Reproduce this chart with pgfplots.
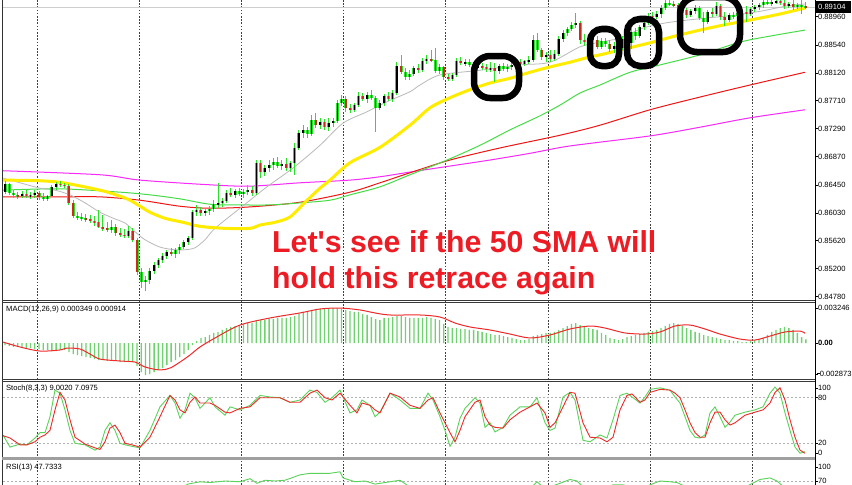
\documentclass[border=0pt]{standalone}
\usepackage{pgfplots}
\pgfplotsset{compat=1.18}
\usepackage{pgfplotstable}
\usepackage{fontspec}
\setmainfont{Liberation Sans}
\newfontfamily\annotfont{Liberation Sans}[Ligatures=TeXOff]

\definecolor{wick}{RGB}{40,225,40}
\definecolor{bearbody}{RGB}{200,45,25}
\definecolor{smagrey}{RGB}{185,185,185}
\definecolor{smayellow}{RGB}{255,236,0}
\definecolor{smagreen}{RGB}{70,220,70}
\definecolor{smared}{RGB}{240,20,20}
\definecolor{smamag}{RGB}{250,40,250}
\definecolor{histg}{RGB}{110,210,110}
\definecolor{stk}{RGB}{90,210,90}
\definecolor{std}{RGB}{240,40,40}
\definecolor{annot}{RGB}{237,28,36}
\newcommand\lab{\fontsize{7.6}{9}\selectfont}

% hourly candles, i = bar number
\pgfplotstableread{
i o h l c
0 0.8634 0.8651 0.8631 0.8646
1 0.8646 0.8648 0.8630 0.8633
2 0.8633 0.8637 0.8625 0.8630
3 0.8630 0.8634 0.8624 0.8628
4 0.8628 0.8636 0.8625 0.8631
5 0.8631 0.8637 0.8625 0.8628
6 0.8628 0.8634 0.8624 0.8630
7 0.8630 0.8637 0.8625 0.8633
8 0.8633 0.8636 0.8622 0.8627
9 0.8627 0.8633 0.8621 0.8624
10 0.8624 0.8630 0.8621 0.8628
11 0.8628 0.8645 0.8627 0.8642
12 0.8642 0.8649 0.8637 0.8646
13 0.8646 0.8651 0.8642 0.8645
14 0.8645 0.8648 0.8640 0.8643
15 0.8643 0.8646 0.8615 0.8618
16 0.8618 0.8622 0.8595 0.8598
17 0.8598 0.8604 0.8592 0.8597
18 0.8597 0.8603 0.8591 0.8595
19 0.8595 0.8601 0.8589 0.8594
20 0.8594 0.8600 0.8588 0.8591
21 0.8591 0.8598 0.8583 0.8589
22 0.8589 0.8607 0.8580 0.8582
23 0.8582 0.8600 0.8576 0.8580
24 0.8580 0.8589 0.8575 0.8577
25 0.8577 0.8592 0.8573 0.8582
26 0.8582 0.8586 0.8569 0.8573
27 0.8573 0.8580 0.8567 0.8570
28 0.8570 0.8579 0.8566 0.8569
29 0.8569 0.8583 0.8566 0.8576
30 0.8576 0.8580 0.8560 0.8563
31 0.8563 0.8566 0.8510 0.8515
32 0.8515 0.8521 0.8491 0.8500
33 0.8500 0.8509 0.8486 0.8503
34 0.8503 0.8521 0.8497 0.8516
35 0.8516 0.8530 0.8512 0.8525
36 0.8525 0.8536 0.8521 0.8533
37 0.8533 0.8543 0.8528 0.8539
38 0.8539 0.8548 0.8534 0.8545
39 0.8545 0.8551 0.8539 0.8542
40 0.8542 0.8551 0.8536 0.8548
41 0.8548 0.8557 0.8542 0.8552
42 0.8552 0.8563 0.8549 0.8560
43 0.8560 0.8569 0.8555 0.8566
44 0.8566 0.8607 0.8563 0.8604
45 0.8604 0.8615 0.8598 0.8607
46 0.8607 0.8612 0.8598 0.8603
47 0.8603 0.8610 0.8598 0.8606
48 0.8606 0.8613 0.8600 0.8609
49 0.8609 0.8622 0.8604 0.8616
50 0.8616 0.8648 0.8610 0.8618
51 0.8618 0.8625 0.8612 0.8621
52 0.8621 0.8637 0.8618 0.8633
53 0.8633 0.8640 0.8627 0.8630
54 0.8630 0.8639 0.8625 0.8636
55 0.8636 0.8640 0.8628 0.8631
56 0.8631 0.8639 0.8625 0.8634
57 0.8634 0.8645 0.8630 0.8637
58 0.8637 0.8643 0.8628 0.8633
59 0.8633 0.8682 0.8630 0.8678
60 0.8678 0.8682 0.8655 0.8664
61 0.8664 0.8675 0.8658 0.8670
62 0.8670 0.8682 0.8664 0.8675
63 0.8675 0.8685 0.8667 0.8679
64 0.8679 0.8687 0.8670 0.8673
65 0.8673 0.8682 0.8667 0.8676
66 0.8676 0.8685 0.8666 0.8670
67 0.8670 0.8681 0.8664 0.8678
68 0.8678 0.8707 0.8660 0.8700
69 0.8700 0.8727 0.8697 0.8722
70 0.8722 0.8734 0.8715 0.8727
71 0.8727 0.8731 0.8715 0.8721
72 0.8721 0.8749 0.8718 0.8742
73 0.8742 0.8752 0.8730 0.8734
74 0.8734 0.8745 0.8728 0.8739
75 0.8739 0.8743 0.8727 0.8731
76 0.8731 0.8745 0.8725 0.8737
77 0.8737 0.8745 0.8731 0.8740
78 0.8740 0.8772 0.8737 0.8767
79 0.8767 0.8779 0.8763 0.8773
80 0.8773 0.8778 0.8754 0.8760
81 0.8760 0.8766 0.8752 0.8757
82 0.8757 0.8767 0.8754 0.8764
83 0.8764 0.8784 0.8761 0.8778
84 0.8778 0.8782 0.8770 0.8773
85 0.8773 0.8784 0.8767 0.8779
86 0.8779 0.8787 0.8772 0.8775
87 0.8775 0.8778 0.8724 0.8760
88 0.8760 0.8772 0.8757 0.8767
89 0.8767 0.8781 0.8763 0.8778
90 0.8778 0.8784 0.8770 0.8773
91 0.8773 0.8787 0.8769 0.8782
92 0.8782 0.8828 0.8779 0.8822
93 0.8822 0.8839 0.8810 0.8813
94 0.8813 0.8819 0.8801 0.8806
95 0.8806 0.8816 0.8801 0.8810
96 0.8810 0.8822 0.8807 0.8819
97 0.8819 0.8825 0.8812 0.8816
98 0.8816 0.8834 0.8813 0.8830
99 0.8830 0.8839 0.8825 0.8833
100 0.8833 0.8846 0.8828 0.8831
101 0.8831 0.8849 0.8812 0.8815
102 0.8815 0.8825 0.8810 0.8821
103 0.8821 0.8822 0.8801 0.8806
104 0.8806 0.8810 0.8800 0.8803
105 0.8803 0.8812 0.8800 0.8809
106 0.8809 0.8834 0.8806 0.8830
107 0.8830 0.8836 0.8824 0.8827
108 0.8827 0.8833 0.8822 0.8828
109 0.8828 0.8833 0.8821 0.8824
110 0.8824 0.8828 0.8816 0.8819
111 0.8819 0.8828 0.8815 0.8822
112 0.8822 0.8827 0.8816 0.8821
113 0.8821 0.8825 0.8813 0.8818
114 0.8818 0.8828 0.8813 0.8819
115 0.8819 0.8827 0.8798 0.8815
116 0.8815 0.8825 0.8810 0.8822
117 0.8822 0.8827 0.8815 0.8818
118 0.8818 0.8825 0.8813 0.8821
119 0.8821 0.8828 0.8816 0.8824
120 0.8824 0.8831 0.8819 0.8828
121 0.8828 0.8833 0.8822 0.8825
122 0.8825 0.8831 0.8822 0.8830
123 0.8830 0.8837 0.8825 0.8831
124 0.8831 0.8869 0.8828 0.8861
125 0.8861 0.8872 0.8843 0.8846
126 0.8846 0.8849 0.8831 0.8836
127 0.8836 0.8843 0.8828 0.8839
128 0.8839 0.8846 0.8828 0.8833
129 0.8833 0.8846 0.8830 0.8840
130 0.8840 0.8867 0.8837 0.8863
131 0.8863 0.8876 0.8858 0.8872
132 0.8872 0.8881 0.8867 0.8878
133 0.8878 0.8888 0.8875 0.8884
134 0.8884 0.8901 0.8879 0.8887
135 0.8887 0.8890 0.8855 0.8861
136 0.8861 0.8870 0.8852 0.8858
137 0.8858 0.8869 0.8854 0.8864
138 0.8864 0.8872 0.8857 0.8861
139 0.8861 0.8867 0.8848 0.8851
140 0.8851 0.8864 0.8848 0.8860
141 0.8860 0.8864 0.8851 0.8855
142 0.8855 0.8861 0.8843 0.8848
143 0.8848 0.8858 0.8842 0.8852
144 0.8852 0.8861 0.8845 0.8849
145 0.8849 0.8867 0.8846 0.8863
146 0.8863 0.8869 0.8852 0.8857
147 0.8857 0.8879 0.8848 0.8873
148 0.8873 0.8879 0.8861 0.8867
149 0.8867 0.8884 0.8864 0.8881
150 0.8881 0.8891 0.8876 0.8887
151 0.8887 0.8901 0.8884 0.8897
152 0.8897 0.8903 0.8891 0.8896
153 0.8896 0.8904 0.8893 0.8900
154 0.8900 0.8913 0.8894 0.8909
155 0.8909 0.8921 0.8906 0.8916
156 0.8916 0.8921 0.8912 0.8915
157 0.8915 0.8919 0.8910 0.8913
158 0.8913 0.8916 0.8898 0.8901
159 0.8901 0.8910 0.8897 0.8906
160 0.8906 0.8909 0.8894 0.8898
161 0.8898 0.8907 0.8896 0.8904
162 0.8904 0.8913 0.8900 0.8909
163 0.8909 0.8912 0.8891 0.8894
164 0.8894 0.8903 0.8872 0.8888
165 0.8888 0.8906 0.8885 0.8903
166 0.8903 0.8909 0.8896 0.8900
167 0.8900 0.8918 0.8897 0.8912
168 0.8912 0.8915 0.8891 0.8896
169 0.8896 0.8903 0.8882 0.8891
170 0.8891 0.8901 0.8888 0.8898
171 0.8898 0.8903 0.8893 0.8897
172 0.8897 0.8904 0.8894 0.8901
173 0.8901 0.8909 0.8897 0.8903
174 0.8903 0.8912 0.8888 0.8900
175 0.8900 0.8910 0.8897 0.8907
176 0.8907 0.8913 0.8903 0.8910
177 0.8910 0.8916 0.8906 0.8913
178 0.8913 0.8921 0.8909 0.8918
179 0.8918 0.8921 0.8913 0.8916
180 0.8916 0.8921 0.8912 0.8918
181 0.8918 0.8921 0.8915 0.8919
182 0.8919 0.8921 0.8913 0.8916
183 0.8916 0.8921 0.8907 0.8912
184 0.8912 0.8918 0.8909 0.8915
185 0.8915 0.8921 0.8906 0.8910
186 0.8910 0.8916 0.8907 0.8913
187 0.8913 0.8921 0.8900 0.8912
188 0.8912 0.8918 0.8907 0.8910
}\candles

% moving averages (x in chart pixels)
\pgfplotstableread{
x p
3 0.8655
20 0.8648
40 0.8640
55 0.8637
70 0.8630
85 0.8618
100 0.8604
115 0.8594
125 0.8588
135 0.8575
145 0.8563
160 0.8552
175 0.8548
185 0.8548
195 0.8551
205 0.8563
215 0.8580
240 0.8610
267 0.8642
293 0.8670
320 0.8704
343 0.8737
367 0.8754
387 0.8769
410 0.8784
420 0.8794
440 0.8809
480 0.8816
520 0.8824
550 0.8828
580 0.8851
600 0.8858
620 0.8864
643 0.8879
667 0.8887
700 0.8893
733 0.8898
760 0.8904
787 0.8912
805 0.8915
}\smagrey
\pgfplotstableread{
x p
3 0.8652
40 0.8651
63 0.8648
100 0.8637
120 0.8628
130 0.8622
140 0.8613
150 0.8604
165 0.8595
183 0.8589
200 0.8583
225 0.8580
250 0.8580
260 0.8585
275 0.8589
290 0.8597
305 0.8619
320 0.8640
330 0.8652
350 0.8678
380 0.8701
410 0.8734
430 0.8760
450 0.8775
470 0.8787
490 0.8797
510 0.8804
530 0.8813
550 0.8821
570 0.8828
590 0.8836
600 0.8839
625 0.8848
650 0.8857
675 0.8867
700 0.8876
725 0.8884
750 0.8891
780 0.8900
805 0.8909
}\smayellow
\pgfplotstableread{
x p
3 0.8637
60 0.8639
120 0.8634
150 0.8630
180 0.8624
210 0.8616
240 0.8615
270 0.8615
300 0.8618
330 0.8622
350 0.8630
380 0.8642
410 0.8660
447 0.8682
480 0.8704
510 0.8727
540 0.8748
560 0.8764
580 0.8782
600 0.8794
630 0.8813
660 0.8824
700 0.8839
740 0.8858
770 0.8867
805 0.8876
}\smagreen
\pgfplotstableread{
x p
3 0.8627
60 0.8627
100 0.8627
140 0.8622
180 0.8613
210 0.8610
250 0.8612
300 0.8619
350 0.8634
380 0.8648
410 0.8663
450 0.8682
500 0.8700
560 0.8719
600 0.8734
650 0.8757
700 0.8776
750 0.8794
805 0.8813
}\smared
\pgfplotstableread{
x p
3 0.8666
100 0.8660
140 0.8652
210 0.8645
250 0.8643
300 0.8648
350 0.8652
380 0.8657
410 0.8664
450 0.8673
490 0.8682
530 0.8692
570 0.8703
650 0.8718
700 0.8731
750 0.8745
805 0.8757
}\smamag

% MACD main (histogram, per bar) and signal
\pgfplotstableread{
i m
0 -0.00019
1 -0.00028
2 -0.00037
3 -0.00037
4 -0.00047
5 -0.00047
6 -0.00047
7 -0.00056
8 -0.00056
9 -0.00065
10 -0.00065
11 -0.00075
12 -0.00075
13 -0.00065
14 -0.00065
15 -0.00084
16 -0.00103
17 -0.00112
18 -0.00122
19 -0.00131
20 -0.00140
21 -0.00150
22 -0.00159
23 -0.00159
24 -0.00168
25 -0.00168
26 -0.00168
27 -0.00178
28 -0.00178
29 -0.00178
30 -0.00178
31 -0.00215
32 -0.00271
33 -0.00299
34 -0.00290
35 -0.00271
36 -0.00252
37 -0.00234
38 -0.00206
39 -0.00178
40 -0.00159
41 -0.00131
42 -0.00103
43 -0.00065
44 -0.00019
45 0.00019
46 0.00047
47 0.00056
48 0.00075
49 0.00094
50 0.00103
51 0.00122
52 0.00140
53 0.00150
54 0.00159
55 0.00168
56 0.00178
57 0.00187
58 0.00187
59 0.00206
60 0.00215
61 0.00215
62 0.00224
63 0.00224
64 0.00234
65 0.00234
66 0.00234
67 0.00243
68 0.00252
69 0.00271
70 0.00290
71 0.00299
72 0.00309
73 0.00318
74 0.00318
75 0.00327
76 0.00327
77 0.00327
78 0.00327
79 0.00318
80 0.00309
81 0.00299
82 0.00290
83 0.00290
84 0.00271
85 0.00262
86 0.00243
87 0.00224
88 0.00215
89 0.00234
90 0.00234
91 0.00243
92 0.00252
93 0.00252
94 0.00243
95 0.00234
96 0.00234
97 0.00234
98 0.00234
99 0.00243
100 0.00234
101 0.00224
102 0.00215
103 0.00178
104 0.00150
105 0.00140
106 0.00140
107 0.00131
108 0.00131
109 0.00122
110 0.00122
111 0.00112
112 0.00103
113 0.00094
114 0.00084
115 0.00075
116 0.00075
117 0.00065
118 0.00056
119 0.00047
120 0.00037
121 0.00028
122 0.00028
123 0.00037
124 0.00065
125 0.00075
126 0.00084
127 0.00094
128 0.00094
129 0.00103
130 0.00122
131 0.00140
132 0.00159
133 0.00178
134 0.00187
135 0.00168
136 0.00150
137 0.00140
138 0.00131
139 0.00122
140 0.00094
141 0.00075
142 0.00047
143 0.00037
144 0.00028
145 0.00037
146 0.00056
147 0.00065
148 0.00075
149 0.00084
150 0.00094
151 0.00103
152 0.00112
153 0.00122
154 0.00140
155 0.00159
156 0.00178
157 0.00187
158 0.00178
159 0.00159
160 0.00140
161 0.00122
162 0.00103
163 0.00094
164 0.00075
165 0.00065
166 0.00056
167 0.00047
168 0.00037
169 0.00028
170 0.00028
171 0.00019
172 0.00019
173 0.00009
174 0.00009
175 0.00019
176 0.00028
177 0.00037
178 0.00047
179 0.00075
180 0.00103
181 0.00122
182 0.00140
183 0.00150
184 0.00140
185 0.00122
186 0.00094
187 0.00056
188 0.00035
}\macdhist
\pgfplotstableread{
x s
3 0.00009
20 -0.00037
40 -0.00075
60 -0.00065
67 -0.00047
80 -0.00056
90 -0.00103
100 -0.00150
120 -0.00168
135 -0.00178
145 -0.00224
160 -0.00252
170 -0.00234
180 -0.00178
190 -0.00112
200 -0.00037
215 0.00047
240 0.00168
270 0.00234
300 0.00281
320 0.00318
340 0.00327
360 0.00309
375 0.00281
390 0.00262
420 0.00262
440 0.00243
455 0.00187
470 0.00150
490 0.00122
510 0.00084
530 0.00047
550 0.00075
570 0.00131
590 0.00159
605 0.00140
625 0.00094
645 0.00084
660 0.00103
675 0.00159
690 0.00168
705 0.00131
720 0.00084
740 0.00037
755 0.00028
770 0.00065
785 0.00103
800 0.00112
805 0.00091
}\macdsig

% Stochastic %K and %D
\pgfplotstableread{
x k d
3 31 30
10 15 27
20 19 18
27 18 18
35 27 22
40 34 28
45 34 31
50 55 37
55 90 64
60 86 87
65 64 77
70 37 51
75 20 28
85 18 19
95 11 14
100 15 12
105 37 22
110 47 40
115 37 44
120 20 34
125 18 20
132 16 18
140 14 15
150 37 28
160 68 55
170 83 83
175 73 77
180 53 64
185 64 60
190 86 74
195 80 81
200 66 73
210 80 73
215 68 70
225 57 61
230 68 60
240 64 66
250 70 68
260 83 80
270 81 80
280 80 80
290 74 74
300 77 74
310 90 86
317 87 90
325 74 80
332 80 77
340 90 86
350 60 70
357 64 60
362 77 73
370 70 70
375 55 64
380 61 60
390 86 86
400 77 81
410 66 70
420 66 66
428 86 77
433 77 80
440 55 60
445 37 47
450 16 34
455 28 22
460 53 37
465 66 55
475 80 74
480 73 77
485 41 55
490 47 44
495 35 41
503 41 40
510 57 51
520 68 61
530 68 68
537 80 73
545 47 60
550 37 41
555 40 47
563 81 68
570 87 87
575 77 86
583 24 47
590 22 28
600 31 27
607 27 22
613 51 28
620 83 64
627 86 83
632 81 85
640 73 74
645 81 77
650 91 87
660 93 91
670 90 90
675 81 86
680 73 80
685 55 64
690 37 47
695 28 34
700 27 28
705 31 28
710 60 47
715 68 61
720 55 61
725 41 51
730 48 44
735 57 47
745 61 57
755 64 61
763 68 64
770 86 73
775 94 87
780 86 93
785 60 77
790 37 51
795 15 28
800 7 11
805 9 7
}\stoch

% RSI(13)
\pgfplotstableread{
x r
3 50
40 45
70 35
100 30
130 25
140 20
160 45
188 66
200 69
210 68
225 70
240 69
250 73
257 67
265 71
275 70
285 71
300 78
310 80
320 80
330 80
340 82
343 74
355 69
365 70
375 66
380 67
390 69
400 71
410 62
430 64
450 55
480 58
510 55
530 60
537 69
545 60
560 67
570 72
577 70
585 60
600 58
613 65
623 65
640 60
660 70
670 69
677 68
690 60
720 55
745 62
760 72
770 74
777 70
790 55
805 47.7
}\rsi

\pgfplotsset{
  panel/.style={scale only axis, width=812bp, xmin=3, xmax=815, anchor=north west,
    axis line style={draw=none}, xtick=\empty, ytick pos=right, yticklabel pos=right,
    scaled y ticks=false,
    tick align=outside, major tick length=2.5bp, ytick style={black, line width=0.5bp},
    yticklabel style={font=\lab, inner xsep=0.4bp, text=black}},
}

\begin{document}
\begin{tikzpicture}
\useasboundingbox (0,0) rectangle (852bp,-485bp);

\begin{scope}[x=1bp, y=-1bp]
  \fill[white] (0,0) rectangle (852,485);
  % day separators
  \foreach \v in {37,139.2,241.4,343.6,445.8,548,650.2,752.4}
    \draw[black!75, line width=0.8bp, dash pattern=on 1.6bp off 1.6bp] (\v,0) -- (\v,485);
  % indicator levels
  \foreach \v in {397.7,443.3,481}
    \draw[gray!60, line width=0.6bp, dash pattern=on 2bp off 2bp] (3,\v) -- (815,\v);
\end{scope}

% price window
\begin{axis}[panel, at={(3bp,0bp)}, height=298bp, ymin=0.84760, ymax=0.89209,
  ytick={0.8478,0.8520,0.8562,0.8603,0.8645,0.8687,0.8729,0.8771,0.8812,0.8854,0.8896},
  yticklabels={0.84780,0.85200,0.85620,0.86030,0.86450,0.86870,0.87290,0.87710,0.88120,0.88540,0.88960}]
\addplot[smagrey!70, line width=0.6bp] coordinates {(3,0.89104) (815,0.89104)};
\addplot[smamag, line width=1bp, smooth] table[x=x, y=p] {\smamag};
\addplot[smared, line width=1bp, smooth] table[x=x, y=p] {\smared};
\addplot[smagreen, line width=1bp, smooth] table[x=x, y=p] {\smagreen};
\addplot[smagrey, line width=0.8bp, smooth] table[x=x, y=p] {\smagrey};
\addplot[smayellow, line width=3bp, smooth] table[x=x, y=p] {\smayellow};
% wicks
\addplot[draw=none, error bars/.cd, y dir=both, y explicit, error mark=none,
  error bar style={line width=1bp, draw=wick}]
  table[x expr=5+4.26*\thisrow{i}, y expr=(\thisrow{h}+\thisrow{l})/2,
        y error expr=(\thisrow{h}-\thisrow{l})/2] {\candles};
% bodies
\addplot[draw=none, error bars/.cd, y dir=both, y explicit, error mark=none,
  error bar style={line width=3bp, draw=wick}]
  table[x expr=5+4.26*\thisrow{i}, y expr=(\thisrow{o}+\thisrow{c})/2,
        y error expr=abs(\thisrow{o}-\thisrow{c})/2] {\candles};
\addplot[draw=none, restrict expr to domain={\thisrow{o}-\thisrow{c}}{-1:0},
  error bars/.cd, y dir=both, y explicit, error mark=none,
  error bar style={line width=1.5bp, draw=black}]
  table[x expr=5+4.26*\thisrow{i}, y expr=(\thisrow{o}+\thisrow{c})/2,
        y error expr=abs(\thisrow{o}-\thisrow{c})/2] {\candles};
\addplot[draw=none, restrict expr to domain={\thisrow{o}-\thisrow{c}}{0.00001:1},
  error bars/.cd, y dir=both, y explicit, error mark=none,
  error bar style={line width=1.5bp, draw=bearbody}]
  table[x expr=5+4.26*\thisrow{i}, y expr=(\thisrow{o}+\thisrow{c})/2,
        y error expr=abs(\thisrow{o}-\thisrow{c})/2] {\candles};
\end{axis}

% MACD window
\begin{axis}[panel, at={(3bp,-303bp)}, height=75bp, ymin=-0.00327, ymax=0.00374,
  ytick={-0.002873,0,0.003246},
  yticklabels={{\kern-0.8bp\rule[2.3bp]{2.3bp}{0.8bp}\kern0.3bp0.002873},\textbf{0.00},0.003246}]
\addplot[ybar, bar width=1.3bp, bar shift=0pt, fill=histg, draw=none]
  table[x expr=5+4.26*\thisrow{i}, y=m] {\macdhist};
\addplot[std, line width=1bp, smooth] table[x=x, y=s] {\macdsig};
\end{axis}

% Stochastic window
\begin{axis}[panel, at={(3bp,-381bp)}, height=77bp, ymin=0.66, ymax=102,
  ytick={7.2,20,80,92.8}, yticklabels={0,20,80,100}]
\addplot[stk, line width=0.9bp] table[x=x, y=k] {\stoch};
\addplot[std, line width=0.9bp] table[x=x, y=d] {\stoch};
\end{axis}

% RSI window
\begin{axis}[panel, at={(3bp,-460bp)}, height=25bp, ymin=64.8, ymax=97.3,
  ytick={70,88.2}, yticklabels={70,100}]
\addplot[stk, line width=0.9bp] table[x=x, y=r] {\rsi};
\end{axis}

\begin{scope}[x=1bp, y=-1bp]
  % window frames
  \draw[gray!40!black, line width=1.2bp] (2.2,0) -- (2.2,485);
  \draw[black, line width=1bp] (815,0) -- (815,485);
  \foreach \v in {300.6,302.6,379.3,381.1}
    \draw[gray!45!black, line width=0.9bp] (2,\v) -- (815,\v);
  \draw[gray!75, line width=2.6bp] (2,458.6) -- (815,458.6);
  % current price
  \fill[black] (815.5,1.5) rectangle (851,12.5);
  \node[anchor=west, text=white, font=\lab, inner sep=0] at (818,7) {0.89104};
  % indicator captions
  \node[anchor=west, font=\lab, inner sep=0] at (6,310) {MACD(12,26,9) 0.000349 0.000914};
  \node[anchor=west, font=\lab, inner sep=0] at (6,389) {Stoch(8,3,3) 9.0020 7.0975};
  \node[anchor=west, font=\lab, inner sep=0] at (6,468) {RSI(13) 47.7333};
  % marked pullbacks to the 50 SMA
  \draw[black, line width=6.5bp, rounded corners=16bp] (474,56) rectangle (519,98);
  \draw[black, line width=6.5bp, rounded corners=12bp] (590,29) rectangle (619,66);
  \draw[black, line width=6.5bp, rounded corners=13bp] (627,19) rectangle (659,66);
  \draw[black, line width=6.5bp, rounded corners=17bp] (680,-3) rectangle (740,52);
  % comment
  \node[anchor=base west, inner sep=0, text=annot, font=\fontsize{30.4}{36}\selectfont\annotfont\bfseries]
    at (272,252) {Let's see if the 50 SMA will};
  \node[anchor=base west, inner sep=0, text=annot, font=\fontsize{30.4}{36}\selectfont\annotfont\bfseries]
    at (272,288) {hold this retrace again};
\end{scope}
\end{tikzpicture}
\end{document}
